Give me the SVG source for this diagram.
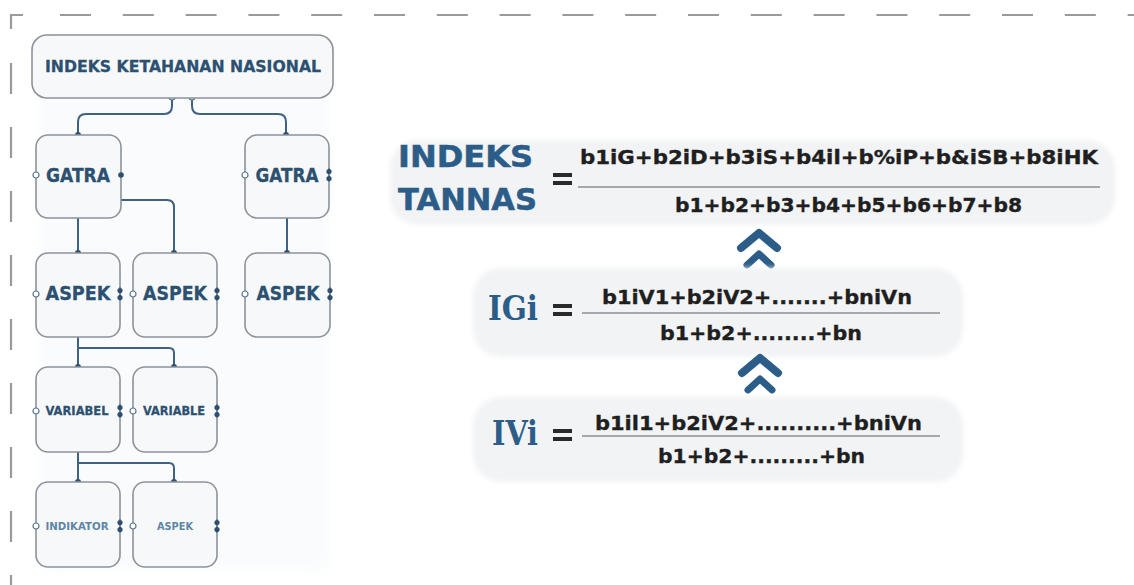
<svg xmlns="http://www.w3.org/2000/svg" width="1134" height="585" viewBox="0 0 1134 585">
  <style>
    .frame { fill: none; stroke: #9a9a9a; stroke-width: 2.2; }
    .box { fill: #f7f8fa; stroke: #8c939a; stroke-width: 1.6; }
    .lbl { font-family: "DejaVu Sans", "Liberation Sans", sans-serif; font-weight: bold; fill: #2c5070; text-anchor: middle; stroke: #2c5070; stroke-width: 0.3; }
    .lbl-soft { fill: #5d86a5; stroke: none; }
    .wire { fill: none; stroke: #3f6182; stroke-width: 2; }
    .pin { fill: #2f4f6e; }
    .ring { fill: #ffffff; stroke: #5b7590; stroke-width: 1.2; }
    .panel { fill: #f2f3f4; }
    .head { font-family: "DejaVu Sans", "Liberation Sans", sans-serif; font-weight: bold; fill: #2b5d88; stroke: #2b5d88; stroke-width: 0.5; }
    .serif { font-family: "DejaVu Serif", "Liberation Serif", serif; font-weight: bold; fill: #2b5d88; }
    .math { font-family: "DejaVu Sans", "Liberation Sans", sans-serif; font-weight: bold; fill: #1f1f1f; stroke: #1f1f1f; stroke-width: 0.35; }
    .bar { stroke: #8a8f95; stroke-width: 1.6; }
    .eq { fill: #2a2a2a; }
    .chev { fill: none; stroke: #2b5d88; stroke-linecap: round; stroke-linejoin: round; }
  </style>
  <defs>
    <filter id="soft" x="-5%" y="-20%" width="110%" height="140%">
      <feGaussianBlur stdDeviation="2.5"/>
    </filter>
    <filter id="haze" x="-20%" y="-10%" width="140%" height="120%">
      <feGaussianBlur stdDeviation="8"/>
    </filter>
    <!-- double up-chevron -->
    <g id="chevron">
      <polyline class="chev" stroke-width="8" points="-18,17 0,2 18,17"/>
      <polyline class="chev" stroke-width="7" points="-12,34 0,23 12,34"/>
    </g>
    <!-- port glyphs on box edges -->
    <g id="port-in">
      <circle class="ring" cx="0" cy="0" r="3"/>
    </g>
    <g id="port-out">
      <line x1="0" y1="-7" x2="0" y2="7" stroke="#4d7aa0" stroke-width="1.4"/>
      <circle class="pin" cx="0" cy="-3.5" r="2.6"/>
      <circle class="pin" cx="0" cy="3.5" r="2.6"/>
    </g>
  </defs>

  <!-- dashed outer frame -->
  <path class="frame" d="M11,29 V15 H23"/>
  <line class="frame" x1="60" y1="15" x2="1134" y2="15" stroke-dasharray="31 31.8"/>
  <line class="frame" x1="11" y1="63" x2="11" y2="585" stroke-dasharray="31 33"/>

  <!-- faint backdrop behind the tree -->
  <rect x="40" y="40" width="290" height="530" fill="#f9fbfd" filter="url(#haze)"/>

  <!-- connectors -->
  <g id="connectors">
    <path class="wire" d="M172,99 V106 Q172,114 164,114 H86 Q78,114 78,122 V135"/>
    <path class="wire" d="M192,99 V106 Q192,114 200,114 H278 Q286,114 286,122 V135"/>
    <path class="wire" d="M78,218 V253"/>
    <path class="wire" d="M121,200 H167 Q174,200 174,207 V253"/>
    <path class="wire" d="M287,218 V253"/>
    <path class="wire" d="M78,337 V367"/>
    <path class="wire" d="M78,348 H169 Q174,348 174,353 V367"/>
    <path class="wire" d="M78,452 V482"/>
    <path class="wire" d="M78,463 H169 Q174,463 174,468 V482"/>
    <circle class="ring" cx="172" cy="97" r="3"/>
    <circle class="ring" cx="192" cy="97" r="3"/>
    <circle class="pin" cx="78" cy="135" r="3"/>
    <circle class="pin" cx="286" cy="135" r="3"/>
    <circle class="pin" cx="78" cy="253" r="3"/>
    <circle class="pin" cx="174" cy="253" r="3"/>
    <circle class="pin" cx="287" cy="253" r="3"/>
    <circle class="pin" cx="78" cy="367" r="3"/>
    <circle class="pin" cx="174" cy="367" r="3"/>
    <circle class="pin" cx="78" cy="482" r="3"/>
    <circle class="pin" cx="174" cy="482" r="3"/>
  </g>

  <!-- tree nodes -->
  <g id="node-root">
    <rect class="box" x="32" y="35" width="301" height="63" rx="15"/>
    <text class="lbl" x="183" y="72" font-size="16" textLength="276" lengthAdjust="spacingAndGlyphs">INDEKS KETAHANAN NASIONAL</text>
  </g>

  <g id="node-gatra-1">
    <rect class="box" x="36" y="135" width="85" height="83" rx="12"/>
    <text class="lbl" x="78" y="182" font-size="19" textLength="64" lengthAdjust="spacingAndGlyphs">GATRA</text>
    <use href="#port-in" x="36" y="175"/>
    <circle class="pin" cx="121" cy="175" r="2.8"/>
  </g>
  <g id="node-gatra-2">
    <rect class="box" x="245" y="135" width="84" height="83" rx="12"/>
    <text class="lbl" x="287" y="182" font-size="19" textLength="63" lengthAdjust="spacingAndGlyphs">GATRA</text>
    <use href="#port-in" x="245" y="175"/>
    <use href="#port-out" x="329" y="175"/>
  </g>

  <g id="node-aspek-1">
    <rect class="box" x="36" y="253" width="84" height="84" rx="12"/>
    <text class="lbl" x="78" y="300" font-size="20" textLength="65" lengthAdjust="spacingAndGlyphs">ASPEK</text>
    <use href="#port-in" x="36" y="294"/>
    <use href="#port-out" x="120" y="294"/>
  </g>
  <g id="node-aspek-2">
    <rect class="box" x="133" y="253" width="84" height="84" rx="12"/>
    <text class="lbl" x="175" y="300" font-size="20" textLength="64" lengthAdjust="spacingAndGlyphs">ASPEK</text>
    <use href="#port-in" x="133" y="294"/>
    <use href="#port-out" x="217" y="294"/>
  </g>
  <g id="node-aspek-3">
    <rect class="box" x="245" y="253" width="85" height="84" rx="12"/>
    <text class="lbl" x="288" y="300" font-size="20" textLength="63" lengthAdjust="spacingAndGlyphs">ASPEK</text>
    <use href="#port-in" x="245" y="294"/>
    <use href="#port-out" x="330" y="294"/>
  </g>

  <g id="node-variabel">
    <rect class="box" x="36" y="367" width="84" height="85" rx="12"/>
    <text class="lbl" x="77" y="415" font-size="13" textLength="63" lengthAdjust="spacingAndGlyphs">VARIABEL</text>
    <use href="#port-in" x="36" y="411"/>
    <use href="#port-out" x="120" y="411"/>
  </g>
  <g id="node-variable">
    <rect class="box" x="133" y="367" width="84" height="85" rx="12"/>
    <text class="lbl" x="174" y="415" font-size="13" textLength="62" lengthAdjust="spacingAndGlyphs">VARIABLE</text>
    <use href="#port-in" x="133" y="411"/>
    <use href="#port-out" x="217" y="411"/>
  </g>

  <g id="node-indikator">
    <rect class="box" x="36" y="482" width="84" height="85" rx="12"/>
    <text class="lbl lbl-soft" x="77" y="530" font-size="11" textLength="63" lengthAdjust="spacingAndGlyphs">INDIKATOR</text>
    <use href="#port-in" x="36" y="526"/>
    <use href="#port-out" x="120" y="526"/>
  </g>
  <g id="node-aspek-4">
    <rect class="box" x="133" y="482" width="84" height="85" rx="12"/>
    <text class="lbl lbl-soft" x="175" y="530" font-size="10" textLength="36" lengthAdjust="spacingAndGlyphs">ASPEK</text>
    <use href="#port-in" x="133" y="526"/>
    <use href="#port-out" x="217" y="526"/>
  </g>

  <!-- formula: national resilience index -->
  <g id="formula-tannas">
    <rect class="panel" x="390" y="140" width="725" height="85" rx="28" filter="url(#soft)"/>
    <text class="head" x="398" y="167" font-size="30" textLength="135" lengthAdjust="spacingAndGlyphs">INDEKS</text>
    <text class="head" x="398" y="210" font-size="30" textLength="139" lengthAdjust="spacingAndGlyphs">TANNAS</text>
    <rect class="eq" x="553" y="173" width="19" height="4"/>
    <rect class="eq" x="553" y="181" width="19" height="4"/>
    <text class="math" x="580" y="164" font-size="19" textLength="518" lengthAdjust="spacingAndGlyphs">b1iG+b2iD+b3iS+b4il+b%iP+b&amp;iSB+b8iHK</text>
    <line class="bar" x1="578" y1="187" x2="1100" y2="187"/>
    <text class="math" x="675" y="212" font-size="19" textLength="347" lengthAdjust="spacingAndGlyphs">b1+b2+b3+b4+b5+b6+b7+b8</text>
  </g>

  <use href="#chevron" x="759" y="231"/>

  <!-- formula: gatra index -->
  <g id="formula-igi">
    <rect class="panel" x="473" y="268" width="490" height="89" rx="28" filter="url(#soft)"/>
    <text class="serif" x="488" y="320" font-size="34" textLength="50" lengthAdjust="spacingAndGlyphs">IGi</text>
    <rect class="eq" x="553" y="304" width="19" height="4"/>
    <rect class="eq" x="553" y="312" width="19" height="4"/>
    <text class="math" x="602" y="304" font-size="20" textLength="310" lengthAdjust="spacingAndGlyphs">b1iV1+b2iV2+.......+bniVn</text>
    <line class="bar" x1="582" y1="313" x2="940" y2="313"/>
    <text class="math" x="660" y="340" font-size="20" textLength="202" lengthAdjust="spacingAndGlyphs">b1+b2+........+bn</text>
  </g>

  <use href="#chevron" x="760" y="356"/>

  <!-- formula: variable index -->
  <g id="formula-ivi">
    <rect class="panel" x="473" y="397" width="490" height="85" rx="28" filter="url(#soft)"/>
    <text class="serif" x="492" y="445" font-size="34" textLength="46" lengthAdjust="spacingAndGlyphs">IVi</text>
    <rect class="eq" x="553" y="429" width="19" height="4"/>
    <rect class="eq" x="553" y="437" width="19" height="4"/>
    <text class="math" x="595" y="430" font-size="20" textLength="327" lengthAdjust="spacingAndGlyphs">b1il1+b2iV2+..........+bniVn</text>
    <line class="bar" x1="582" y1="436" x2="940" y2="436"/>
    <text class="math" x="658" y="463" font-size="20" textLength="207" lengthAdjust="spacingAndGlyphs">b1+b2+.........+bn</text>
  </g>
</svg>
